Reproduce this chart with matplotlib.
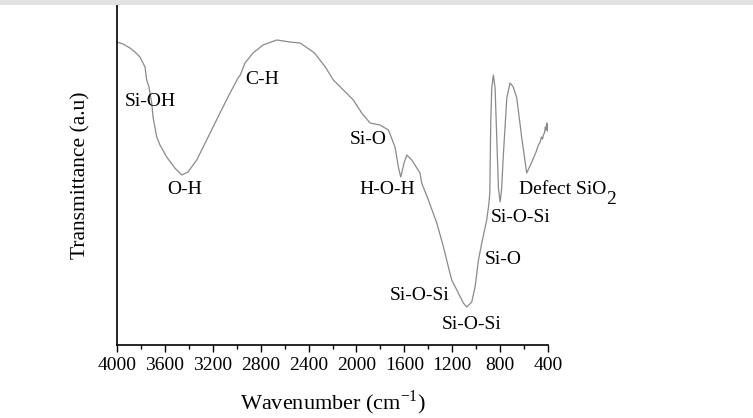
import matplotlib
matplotlib.use("Agg")
import matplotlib.pyplot as plt
from matplotlib.ticker import MultipleLocator
from matplotlib.patches import Rectangle

# FTIR spectrum (wavenumber cm^-1, transmittance a.u.)
wavenumber = [4000, 3950, 3891, 3850, 3808, 3766, 3752, 3733, 3710, 3699, 3668,
              3641, 3585, 3517, 3459, 3407, 3334, 3251, 3140, 3056, 2989, 2970,
              2931, 2864, 2780, 2666, 2555, 2470, 2350, 2260, 2193, 2109, 2026,
              1956, 1886, 1803, 1733, 1678, 1650, 1630, 1602, 1580, 1538, 1469,
              1455, 1399, 1329, 1273, 1232, 1204, 1149, 1107, 1079, 1037, 1009,
              981, 953, 930, 912, 895, 886, 882, 878, 870, 856, 842, 828, 814,
              800, 788, 773, 744, 717, 690, 661, 619, 578, 535, 500, 480, 465,
              455, 445, 439, 430, 422, 416, 410, 405, 400]
transmittance = [303, 301, 297, 293, 288, 278, 265, 258, 242, 228, 208,
                 200, 188, 177, 170, 173, 185, 205, 232, 252, 267, 270,
                 282, 292, 300, 305, 303, 302, 292, 278, 265, 255, 245,
                 232, 222, 220, 215, 198, 178, 168, 182, 190, 185, 172,
                 162, 145, 122, 98, 78, 65, 52, 42, 38, 43, 58,
                 85, 102, 115, 125, 140, 152, 190, 223, 257, 270, 257, 207, 157,
                 143, 155, 190, 247, 262, 258, 247, 207, 172, 183, 193, 200, 203,
                 208, 206, 210, 212, 218, 215, 222, 214, 220]

labels = ["Si-OH", "C-H", "O-H", "Si-O", "H-O-H", "Si-O-Si", "Si-O-Si",
          "Si-O", "Si-O-Si"]
label_wn = [3724, 2789, 3432, 1903, 1740, 1469, 1034, 775, 625]
label_t = [243, 265, 155, 205, 155, 50, 20.5, 85.5, 127.5]

x_ticks = [4000, 3600, 3200, 2800, 2400, 2000, 1600, 1200, 800, 400]

serif = ["Liberation Serif", "DejaVu Serif"]
plt.rcParams["font.family"] = serif
plt.rcParams["mathtext.fontset"] = "custom"
plt.rcParams["mathtext.rm"] = "Liberation Serif"

fig = plt.figure(figsize=(7.53, 4.18), dpi=100)
fig.patches.append(Rectangle((0, 418 - 5), 753, 5, transform=None,
                             facecolor="#e2e2e2", edgecolor="none"))
ax = fig.add_axes([117 / 753, (418 - 345) / 418, 431 / 753, 340 / 418])

ax.plot(wavenumber, transmittance, color="#8a8a8a", lw=0.9)

ax.set_xlim(4000, 400)
ax.set_ylim(0, 340)
ax.set_xticks(x_ticks)
ax.xaxis.set_minor_locator(MultipleLocator(200))
ax.tick_params(axis="x", which="major", direction="out", length=5, width=1,
               labelsize=14, pad=4)
ax.tick_params(axis="x", which="minor", direction="out", length=3, width=1)
ax.set_yticks([])
for s in ["top", "right"]:
    ax.spines[s].set_visible(False)
for s in ["left", "bottom"]:
    ax.spines[s].set_linewidth(1.2)

for lab, xw, yt in zip(labels, label_wn, label_t):
    ax.text(xw, yt, lab, ha="center", va="center", fontsize=14)
ax.text(645, 156, "Defect SiO", ha="left", va="center", fontsize=14)
ax.text(-85, 146, "2", ha="left", va="center", fontsize=14)

ax.set_xlabel(r"Wavenumber (cm$^{-1}$)", fontsize=16, labelpad=10)
ax.set_ylabel("Transmittance (a.u)", fontsize=15.5, labelpad=19)

fig.savefig("out.png", dpi=100)
